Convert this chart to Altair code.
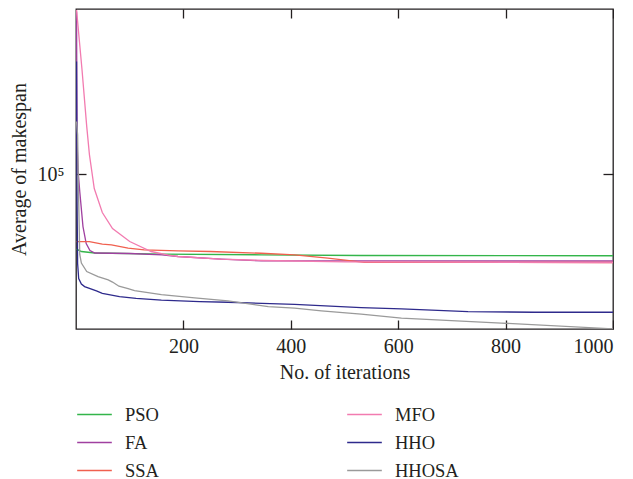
import altair as alt
import pandas as pd

# ---- data (iteration, average makespan) ----
series_names = ["PSO", "FA", "SSA", "MFO", "HHO", "HHOSA"]
series_colors = ["#33b54a", "#a040a0", "#f0604f", "#f27bb0", "#2e2a8c", "#9a9a9a"]

pso_iter = [1, 10, 35, 160, 345, 531, 1000]
pso_val = [68200, 67350, 66840, 66430, 66230, 65990, 65900]

fa_iter = [1, 2, 4, 7, 13, 19, 26, 35, 100, 160, 190, 270, 345, 500, 1000]
fa_val = [229900, 118200, 101400, 91500, 76500, 70150, 67700, 66840, 66660,
          66230, 65650, 64790, 64220, 64180, 64150]

ssa_iter = [1, 25, 49, 66, 97, 127, 190, 250, 345, 407, 469, 537, 1000]
ssa_val = [70880, 70880, 69910, 69700, 68500, 67930, 67590, 67350, 66760,
           66230, 65090, 63720, 63660]

mfo_iter = [1, 11, 20, 25, 34, 49, 68, 100, 140, 172, 190, 270, 350, 500, 1000]
mfo_val = [232000, 171800, 127600, 110600, 92950, 82200, 75750, 70880, 67350,
           66100, 65650, 64790, 64320, 63900, 63660]

hho_iter = [1, 2, 3, 5, 10, 16, 38, 49, 81, 112, 159, 230, 283, 407, 531, 606,
            730, 853, 1000]
hho_val = [178000, 86960, 63330, 58640, 57020, 56270, 55060, 54390, 53470, 53010,
           52530, 52130, 51940, 51410, 50550, 50210, 49520, 49350, 49350]

hhosa_iter = [1, 3, 5, 7, 10, 20, 41, 60, 68, 80, 97, 109, 159, 221, 283, 358,
              407, 457, 531, 606, 792, 1000]
hhosa_val = [131000, 122500, 86960, 66330, 63500, 60780, 59240, 58240, 57600,
             56400, 55700, 55100, 54000, 53100, 52300, 50800, 50400, 49700,
             48900, 47900, 46700, 45350]

x_ticks = [200, 400, 600, 800, 1000]
y_ticks = [100000]
y_domain = [45300, 233000]
x_domain = [0, 1000]

rows = []
for name, its, vals in [("PSO", pso_iter, pso_val), ("FA", fa_iter, fa_val),
                        ("SSA", ssa_iter, ssa_val), ("MFO", mfo_iter, mfo_val),
                        ("HHO", hho_iter, hho_val), ("HHOSA", hhosa_iter, hhosa_val)]:
    for i, v in zip(its, vals):
        rows.append({"iter": i, "value": v, "series": name})
df = pd.DataFrame(rows)

W, H = 537, 320
FONT = "Liberation Serif"
TXT = "#231f20"
FS = 20

xs = alt.Scale(domain=x_domain, nice=False, zero=False)
ys = alt.Scale(type="log", domain=y_domain, nice=False)

base = alt.Chart(df)

main = base.mark_line(clip=True, strokeWidth=1.3).encode(
    x=alt.X("iter:Q", scale=xs, axis=alt.Axis(
        orient="bottom", values=x_ticks, ticks=False, domain=False, grid=False,
        format="d", labelPadding=7, title="No. of iterations", titlePadding=6)),
    y=alt.Y("value:Q", scale=ys, axis=alt.Axis(
        orient="left", values=y_ticks, ticks=False, domain=False, grid=False,
        labelExpr="'10⁵'", labelPadding=12, title="Average of makespan",
        titlePadding=8)),
    color=alt.Color("series:N", scale=alt.Scale(domain=series_names, range=series_colors),
                    legend=alt.Legend(
                        title=None, orient="none", legendX=0, legendY=387, columns=2,
                        symbolType="stroke", symbolSize=1200, symbolStrokeWidth=1.6,
                        labelFont=FONT, labelFontSize=18.5, labelColor=TXT,
                        labelOffset=12, columnPadding=184, rowPadding=0, padding=0)),
    detail="series:N",
)

ticks_a = base.mark_line(opacity=0).encode(
    x=alt.X("iter:Q", scale=xs, axis=alt.Axis(
        orient="top", offset=-H, values=x_ticks, labels=False, domain=False,
        grid=False, title=None, tickSize=9)),
    y=alt.Y("value:Q", scale=ys, axis=alt.Axis(
        orient="right", offset=-W, values=y_ticks, labels=False, domain=False,
        grid=False, title=None, tickSize=10)),
    detail="series:N",
)

ticks_b = base.mark_line(opacity=0).encode(
    x=alt.X("iter:Q", scale=xs, axis=alt.Axis(
        orient="bottom", offset=-H, values=x_ticks, labels=False, domain=False,
        grid=False, title=None, tickSize=9)),
    y=alt.Y("value:Q", scale=ys, axis=alt.Axis(
        orient="left", offset=-W, values=y_ticks, labels=False, domain=False,
        grid=False, title=None, tickSize=10)),
    detail="series:N",
)

chart = alt.layer(main, ticks_a, ticks_b).resolve_axis(
    x="independent", y="independent"
).properties(
    width=W, height=H, background="white",
    padding={"left": 1, "top": 0, "right": 0, "bottom": 0},
).configure_view(
    stroke="#231f20", strokeWidth=1.3
).configure_axis(
    labelFont=FONT, titleFont=FONT, labelFontSize=FS, titleFontSize=FS,
    labelColor=TXT, titleColor=TXT, titleFontWeight="normal",
    tickColor="#231f20", tickWidth=1.3,
)

chart.save("out.html", embed_options={"renderer": "svg", "actions": False})
